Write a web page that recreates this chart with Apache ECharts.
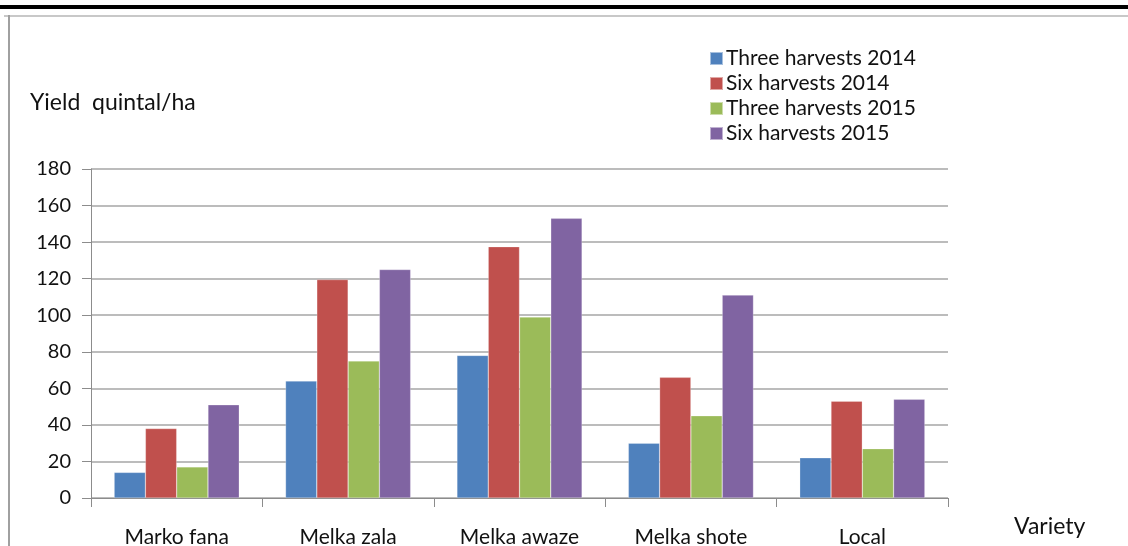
<!DOCTYPE html>
<html>
<head>
<meta charset="utf-8">
<script src="https://cdn.jsdelivr.net/npm/echarts@6/dist/echarts.min.js"></script>
<style>
  html, body { margin: 0; padding: 0; background: #fff; }
  #chart { width: 1128px; height: 546px; }
</style>
</head>
<body>
<div id="chart"></div>
<script>
// varieties on the x axis
const varieties = ['Marko fana', 'Melka zala', 'Melka awaze', 'Melka shote', 'Local'];
const seriesNames = ['Three harvests 2014', 'Six harvests 2014', 'Three harvests 2015', 'Six harvests 2015'];

// yield, quintal/ha
const threeHarvests2014 = [14, 64, 78, 30, 22];
const sixHarvests2014 = [38, 119.5, 137.5, 66, 53];
const threeHarvests2015 = [17, 75, 99, 45, 27];
const sixHarvests2015 = [51, 125, 153, 111, 54];

const yTicks = [0, 20, 40, 60, 80, 100, 120, 140, 160, 180];

const colors = ['#4F81BD', '#C0504D', '#9BBB59', '#8064A2'];
const font = 'Lato';

const chart = echarts.init(document.getElementById('chart'));

const allValues = [threeHarvests2014, sixHarvests2014, threeHarvests2015, sixHarvests2015];

const option = {
    animation: false,
    color: colors,
    textStyle: { fontFamily: font },
    grid: { left: 91, right: 180, top: 169, bottom: 48, outerBoundsMode: 'none' },
    legend: {
        orient: 'vertical',
        left: 704,
        top: 43,
        itemWidth: 13,
        itemHeight: 13,
        itemGap: 4,
        icon: 'rect',
        textStyle: { fontSize: 21, color: '#111', fontFamily: font, padding: [0, 0, 0, -2] },
        data: seriesNames
    },
    xAxis: {
        type: 'category',
        data: varieties,
        axisLine: { lineStyle: { color: '#8c8c8c', width: 1 } },
        axisTick: { show: true, length: 9, lineStyle: { color: '#8c8c8c' } },
        axisLabel: { fontSize: 21, color: '#111', margin: 29 },
        name: 'Variety',
        nameLocation: 'end',
        nameGap: 66,
        nameTextStyle: { fontSize: 23, color: '#111', verticalAlign: 'top', padding: [17, 0, 0, 0] }
    },
    yAxis: {
        type: 'value',
        min: yTicks[0],
        max: yTicks[yTicks.length - 1],
        interval: 20,
        axisLine: { show: true, lineStyle: { color: '#8c8c8c' } },
        axisTick: { show: true, length: 9, lineStyle: { color: '#8c8c8c' } },
        splitLine: { lineStyle: { color: '#a6a6a6', width: 1.5 } },
        axisLabel: { fontSize: 20, color: '#111', margin: 20 }
    },
    series: seriesNames.map((name, i) => ({
        name: name,
        type: 'bar',
        data: allValues[i],
        barGap: '0%',
        barCategoryGap: '27%',
        itemStyle: { borderColor: 'rgba(255,255,255,0.5)', borderWidth: 0.5 }
    })),
    graphic: [
        // frame lines of the original figure
        { type: 'rect', shape: { x: 0, y: 5, width: 1128, height: 4 }, style: { fill: '#000' } },
        { type: 'rect', shape: { x: 4, y: 15, width: 1124, height: 2 }, style: { fill: '#c8c8c8' } },
        { type: 'rect', shape: { x: 8, y: 15, width: 2, height: 531 }, style: { fill: '#a0a0a0' } },
        {
            type: 'text', left: 30, top: 91,
            style: { text: 'Yield  quintal/ha', fontSize: 23, fill: '#111', fontFamily: font }
        }
    ]
};

chart.setOption(option);
</script>
</body>
</html>
